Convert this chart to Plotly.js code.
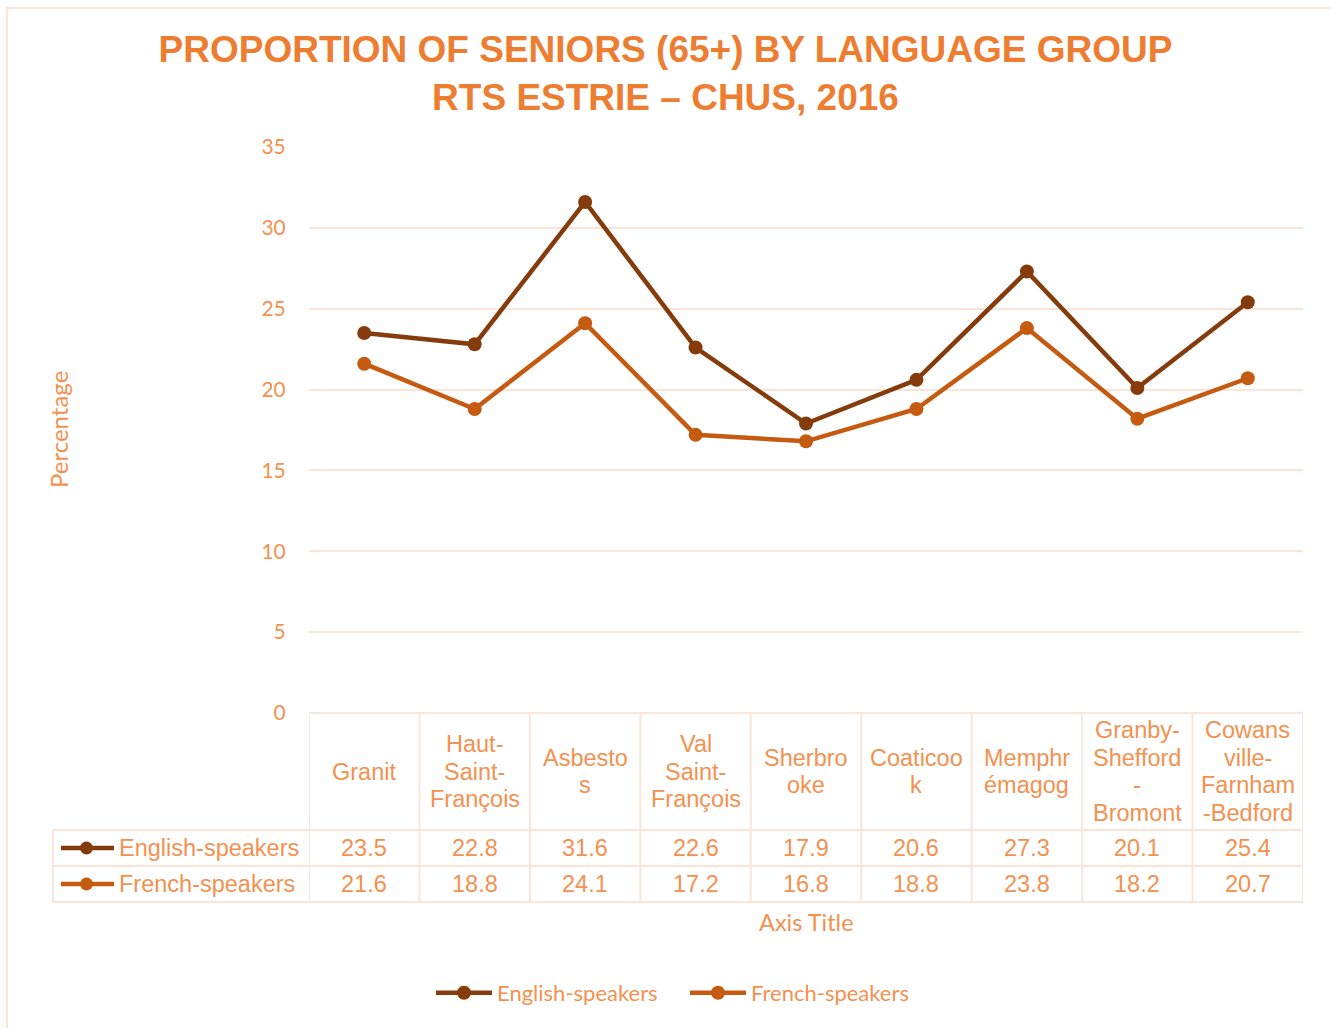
<!DOCTYPE html>
<html>
<head>
<meta charset="utf-8">
<script src="https://cdn.plot.ly/plotly-3.0.1.min.js"></script>
<style>html,body{margin:0;padding:0;background:#fff;}#chart{width:1331px;height:1028px;}</style>
</head>
<body>
<div id="chart"></div>
<script>
// ---- data ----
var categories = ["Granit", "Haut-<br>Saint-<br>François", "Asbesto<br>s", "Val<br>Saint-<br>François", "Sherbro<br>oke", "Coaticoo<br>k", "Memphr<br>émagog", "Granby-<br>Shefford<br>-<br>Bromont", "Cowans<br>ville-<br>Farnham<br>-Bedford"];
var seriesNames = ["English-speakers", "French-speakers"];
var english = [23.5, 22.8, 31.6, 22.6, 17.9, 20.6, 27.3, 20.1, 25.4];
var french = [21.6, 18.8, 24.1, 17.2, 16.8, 18.8, 23.8, 18.2, 20.7];
var yTicks = [0, 5, 10, 15, 20, 25, 30, 35];

// ---- styling / layout geometry ----
var colEn = "#843C0C", colFr = "#C55A11";
var txt = "#F39150", border = "#FBE5D6", titleCol = "#ED7D31";
var W = 1331, H = 1028;
var L = 309, R = 1303, T = 147, B = 713;
var PW = R - L, PH = B - T;
function px(p){ return (p - L) / PW; }
function py(p){ return (B - p) / PH; }

var xIdx = categories.map(function(c, i){ return i; });
var traces = [
  {x: xIdx, y: english, name: seriesNames[0], type: "scatter", mode: "lines+markers",
   line: {color: colEn, width: 4.5}, marker: {color: colEn, size: 14}},
  {x: xIdx, y: french, name: seriesNames[1], type: "scatter", mode: "lines+markers",
   line: {color: colFr, width: 4.5}, marker: {color: colFr, size: 14}}
];

var shapes = [];
var annotations = [];
var tableFont = {family: "Liberation Sans, Arial, sans-serif", size: 23.5, color: txt};
var n = categories.length;
var yHead = py(713), yR1 = py(830), yR2 = py(866), yR3 = py(902);
var xLeft = px(53);

function ln(x0, y0, x1, y1, xref){
  shapes.push({type: "line", xref: xref, yref: "paper", x0: x0, y0: y0, x1: x1, y1: y1,
    line: {color: border, width: 2}, layer: "below"});
}
// vertical cell borders
for (var i = 0; i <= n; i++) { ln(i - 0.5, yHead, i - 0.5, yR3, "x"); }
ln(xLeft, yR1, xLeft, yR3, "paper");
// horizontal borders
ln(-0.5, yHead, n - 0.5, yHead, "x");
[yR1, yR2, yR3].forEach(function(yy){
  shapes.push({type: "line", xref: "paper", yref: "paper", x0: xLeft, y0: yy, x1: 1, y1: yy,
    line: {color: border, width: 2}, layer: "below"});
});

// header cells (category labels)
var lineGap = 27.5;
categories.forEach(function(c, i){
  var lines = c.split("<br>");
  var mid = 771.5;
  lines.forEach(function(t, k){
    var cy = mid + (k - (lines.length - 1) / 2) * lineGap;
    annotations.push({x: i, y: py(cy), xref: "x", yref: "paper", text: t, showarrow: false,
      xanchor: "center", yanchor: "middle", font: tableFont});
  });
});
// value rows
var rows = [english, french];
var rowY = [848, 884];
var rowCol = [colEn, colFr];
rows.forEach(function(vals, r){
  vals.forEach(function(v, i){
    annotations.push({x: i, y: py(rowY[r]), xref: "x", yref: "paper", text: v.toFixed(1),
      showarrow: false, xanchor: "center", yanchor: "middle", font: tableFont});
  });
  annotations.push({x: px(117), y: py(rowY[r]), xref: "paper", yref: "paper", text: seriesNames[r],
    showarrow: false, xanchor: "left", yanchor: "middle", font: tableFont});
  // legend key inside the table
  shapes.push({type: "line", xref: "paper", yref: "paper", x0: px(61), x1: px(114),
    y0: py(rowY[r]), y1: py(rowY[r]), line: {color: rowCol[r], width: 4.5}});
  shapes.push({type: "circle", xref: "paper", yref: "paper", x0: px(80), x1: px(93),
    y0: py(rowY[r] - 6.5), y1: py(rowY[r] + 6.5), fillcolor: rowCol[r], line: {color: rowCol[r], width: 0}});
});

// axis titles
annotations.push({x: px(58), y: py(430), xref: "paper", yref: "paper", text: "Percentage",
  textangle: -90, showarrow: false, xanchor: "center", yanchor: "middle",
  font: {family: "Lato, Carlito, sans-serif", size: 24, color: txt}});
annotations.push({x: 0.5, y: py(922), xref: "paper", yref: "paper", text: "Axis Title",
  showarrow: false, xanchor: "center", yanchor: "middle",
  font: {family: "Lato, Carlito, sans-serif", size: 23.5, color: txt}});

// outer frame
shapes.push({type: "rect", xref: "paper", yref: "paper", x0: px(7), x1: px(1340), y0: py(8), y1: py(1040),
  line: {color: border, width: 2}, fillcolor: "rgba(0,0,0,0)", layer: "below"});

var layout = {
  width: W, height: H,
  margin: {l: L, r: W - R, t: T, b: H - B, pad: 0},
  paper_bgcolor: "#ffffff", plot_bgcolor: "#ffffff",
  title: {text: "PROPORTION OF SENIORS (65+) BY LANGUAGE GROUP<br>RTS ESTRIE – CHUS, 2016",
    font: {family: "Liberation Sans, Arial, sans-serif", size: 37, color: titleCol, weight: "bold"},
    x: 0.5, xref: "container", xanchor: "center", y: 1 - 62 / H, yref: "container", yanchor: "middle"},
  xaxis: {type: "linear", range: [-0.5, n - 0.5], showgrid: false, zeroline: false,
    showticklabels: false, ticks: "", showline: false, fixedrange: true},
  yaxis: {range: [0, 35], tickvals: yTicks, ticktext: yTicks.map(String), showgrid: true,
    gridcolor: border, gridwidth: 2, zeroline: false, showline: false,
    ticks: "outside", ticklen: 18, tickcolor: "rgba(0,0,0,0)",
    tickfont: {family: "Lato, Carlito, sans-serif", size: 21, color: txt}, fixedrange: true},
  showlegend: true,
  legend: {orientation: "h", x: px(431), xanchor: "left", y: py(993), yanchor: "middle",
    font: {family: "Lato, Carlito, sans-serif", size: 22, color: txt}, bgcolor: "rgba(0,0,0,0)",
    itemwidth: 56, entrywidth: 183, entrywidthmode: "pixels", tracegroupgap: 0},
  shapes: shapes,
  annotations: annotations
};

Plotly.newPlot("chart", traces, layout, {displayModeBar: false, staticPlot: true});
</script>
</body>
</html>
